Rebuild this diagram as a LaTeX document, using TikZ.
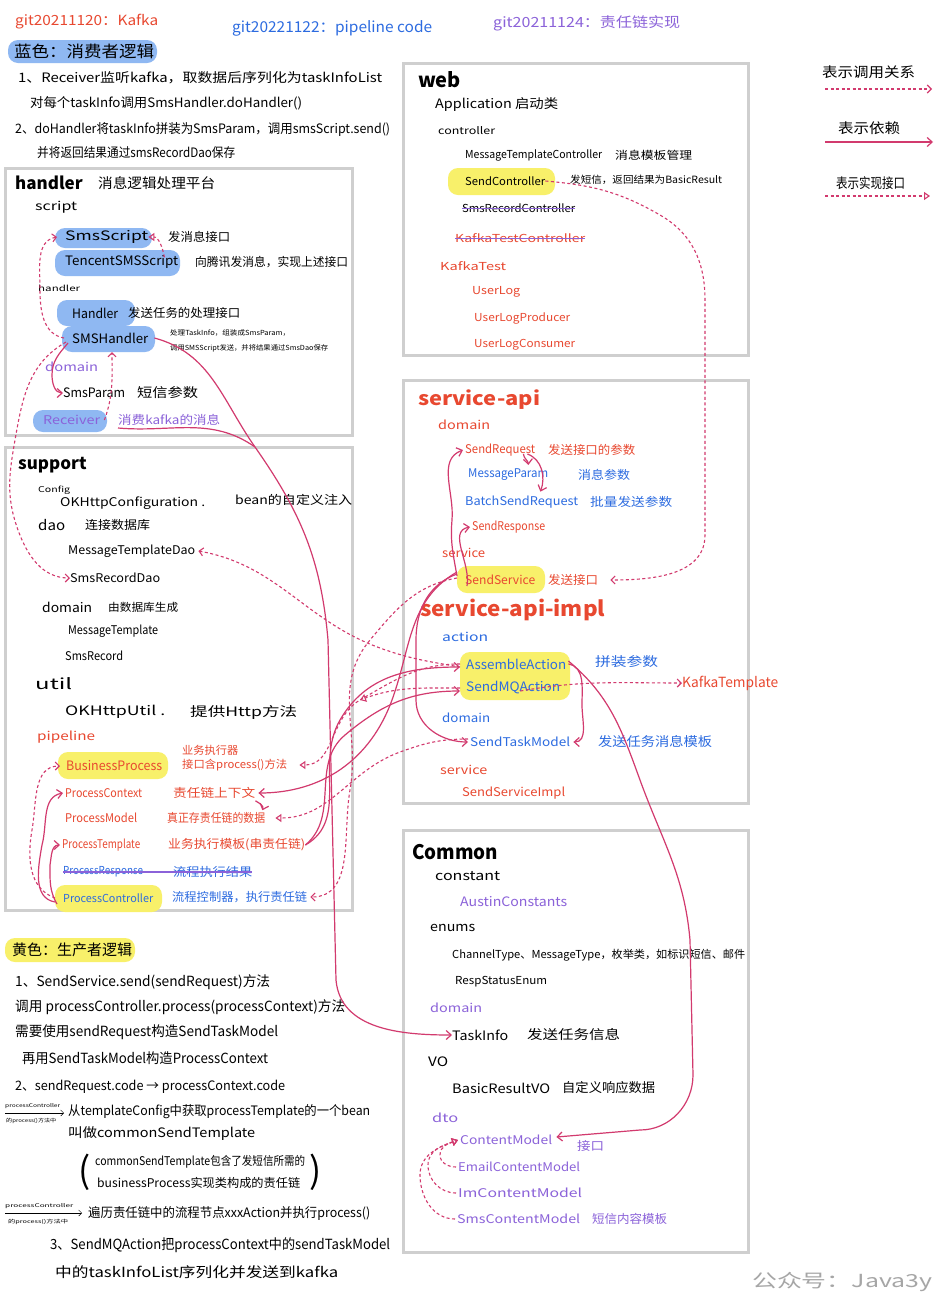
\documentclass[tikz,border=0pt]{standalone}
\usepackage{fontspec}
\setmainfont{Noto Sans CJK SC}
\usepackage{graphicx}
\usetikzlibrary{arrows.meta, positioning}
\definecolor{inkred}{HTML}{E84830}
\definecolor{inkblue}{HTML}{2C6BE0}
\definecolor{inkpurple}{HTML}{8B62D9}
\definecolor{inkarrow}{HTML}{D23A6E}
\definecolor{hlblue}{HTML}{8FB8F2}
\definecolor{hlyellow}{HTML}{F8F06A}
\definecolor{boxgray}{HTML}{CFCFCF}
\newcommand\fs[1]{\fontsize{#1}{#1}\selectfont}
\newcommand\tw[2]{\resizebox{#1pt}{\height}{#2}}
\tikzset{txt/.style={anchor=west,inner sep=0pt,font=\fs{12}},
         head/.style={txt,font=\fs{17}\bfseries},
         small/.style={txt,font=\fs{7}},
         pkgbox/.style={draw=boxgray,line width=3pt},
         pillb/.style={fill=hlblue,rounded corners=10pt},
         pilly/.style={fill=hlyellow,rounded corners=10pt},
         strike/.style={draw=inkpurple,line width=0.8pt},
         callarr/.style={draw=inkarrow,line width=1.1pt,dash pattern=on 3pt off 2.5pt,-{Straight Barb[length=4pt,width=8pt]}},
         dep/.style={draw=inkarrow,line width=1.2pt,-{Straight Barb[length=5pt,width=9pt]}},
         impl/.style={draw=inkarrow,line width=1.1pt,dash pattern=on 3pt off 2.5pt,-{Triangle[open,length=6pt,width=8pt]}},
        }

\begin{document}
\begin{tikzpicture}[x=1pt,y=-1pt]
        \useasboundingbox[fill=white] (0,0) rectangle (937,1302);
        % package boxes
        \draw[pkgbox] (403,63) rectangle (748,355);
        \draw[pkgbox] (5,168) rectangle (352,435);
        \draw[pkgbox] (5,447) rectangle (352,910);
        \draw[pkgbox] (403,380) rectangle (748,803);
        \draw[pkgbox] (403,830) rectangle (748,1252);

        % highlights
        \fill[pillb] (8,40) rectangle (157,63);
        \fill[pilly] (448,168) rectangle (555,195);
        \fill[pillb] (55,228) rectangle (152,248);
        \fill[pillb] (55,250) rectangle (180,276);
        \fill[pillb] (57,300) rectangle (135,326);
        \fill[pillb] (62,326) rectangle (155,352);
        \fill[pillb] (33,410) rectangle (107,432);
        \fill[pilly] (58,752) rectangle (168,779);
        \fill[pilly] (55,885) rectangle (162,912);
        \fill[pilly] (457,566) rectangle (545,593);
        \fill[pilly] (460,652) rectangle (570,700);
        \fill[pilly] (5,938) rectangle (135,962);

        % titles
        \node[txt,inkred,font=\fs{14}] (gk) at (15,22) {\tw{143}{git20211120：Kafka}};
        \node[txt,font=\fs{16}] (lblue) at (14,51) {\tw{140}{蓝色：消费者逻辑}};
        \node[txt,inkblue,font=\fs{15}] (gpipe) at (232,28) {\tw{200}{git20221122：pipeline code}};
        \node[txt,inkpurple,font=\fs{14}] (gchain) at (493,23) {\tw{187}{git20211124：责任链实现}};

        \node[txt,font=\fs{13}] (l1) at (18,78) {\tw{364}{1、Receiver监听kafka，取数据后序列化为taskInfoList}};
        \node[txt,font=\fs{13}] (l2) at (30,103) {\tw{272}{对每个taskInfo调用SmsHandler.doHandler()}};
        \node[txt,font=\fs{13}] (l3) at (15,130) {\tw{375}{2、doHandler将taskInfo拼装为SmsParam，调用smsScript.send()}};
        \node[txt,font=\fs{13}] (l4) at (37,153) {\tw{198}{并将返回结果通过smsRecordDao保存}};

        % legend
        \node[txt,font=\fs{14}] (leg1) at (822,72) {\tw{93}{表示调用关系}};
        \node[txt,font=\fs{14}] (leg2) at (838,128) {\tw{62}{表示依赖}};
        \node[txt,font=\fs{14}] (leg3) at (836,183) {\tw{69}{表示实现接口}};
        \coordinate (leg1a) at (825,89);
        \coordinate (leg1b) at (932,89);
        \coordinate (leg2a) at (825,142);
        \coordinate (leg2b) at (933,142);
        \coordinate (leg3a) at (825,196);
        \coordinate (leg3b) at (930,196);

        % web
        \node[head,font=\fs{20}\bfseries] (hweb) at (418,80) {web};
        \node[txt,font=\fs{13}] (app) at (435,105) {\tw{123}{Application 启动类}};
        \node[txt,font=\fs{10}] (ctl) at (438,131) {\tw{57}{controller}};
        \node[txt,font=\fs{11}] (mtc) at (465,155) {\tw{137}{MessageTemplateController}};
        \node[txt,font=\fs{11}] (mtcn) at (615,155) {\tw{77}{消息模板管理}};
        \node[txt,font=\fs{11}] (sendctl) at (465,181) {\tw{80}{SendController}};
        \node[txt,font=\fs{10}] (sendctln) at (570,180) {\tw{152}{发短信，返回结果为BasicResult}};
        \node[txt,font=\fs{11}] (smsrecctl) at (462,208) {\tw{113}{SmsRecordController}};
        \node[txt,inkred,font=\fs{11}] (kafkactl) at (455,238) {\tw{130}{KafkaTestController}};
        \node[txt,inkred,font=\fs{11}] (kafkatest) at (440,266) {\tw{66}{KafkaTest}};
        \node[txt,inkred,font=\fs{11}] (userlog) at (472,292) {\tw{48}{UserLog}};
        \node[txt,inkred,font=\fs{11}] (ulprod) at (474,318) {\tw{96}{UserLogProducer}};
        \node[txt,inkred,font=\fs{11}] (ulcons) at (474,345) {\tw{101}{UserLogConsumer}};
        \draw[strike] (smsrecctl.west) -- (smsrecctl.east);
        \draw[strike] (kafkactl.west) -- (kafkactl.east);

        % handler
        \node[head] (hhand) at (15,183) {handler};
        \node[txt,font=\fs{14}] (hhandn) at (98,183) {\tw{117}{消息逻辑处理平台}};
        \node[txt] (script) at (35,207) {\tw{42}{script}};
        \node[txt,font=\fs{13}] (smsscript) at (65,237) {\tw{83}{SmsScript}};
        \node[txt] (smsscriptn) at (168,237) {\tw{62}{发消息接口}};
        \node[txt,font=\fs{13}] (tencent) at (65,262) {\tw{113}{TencentSMSScript}};
        \node[txt] (tencentn) at (195,262) {\tw{153}{向腾讯发消息，实现上述接口}};
        \node[txt,font=\fs{8}] (hsub) at (38,288) {\tw{42}{handler}};
        \node[txt,font=\fs{13}] (handler) at (72,313) {\tw{46}{Handler}};
        \node[txt] (handlern) at (128,313) {\tw{112}{发送任务的处理接口}};
        \node[txt,font=\fs{13}] (smshandler) at (72,338) {\tw{76}{SMSHandler}};
        \node[small] (smshn1) at (170,333) {\tw{120}{处理TaskInfo，组装成SmsParam，}};
        \node[small] (smshn2) at (170,348) {\tw{158}{调用SMSScript发送，并将结果通过SmsDao保存}};
        \node[txt,inkpurple] (hdomain) at (45,367) {\tw{53}{domain}};
        \node[txt,font=\fs{13}] (smsparam) at (63,393) {\tw{62}{SmsParam}};
        \node[txt,font=\fs{13}] (smsparamn) at (137,393) {\tw{61}{短信参数}};
        \node[txt,inkpurple] (receiver) at (43,420) {\tw{57}{Receiver}};
        \node[txt,inkpurple] (receivern) at (118,420) {\tw{102}{消费kafka的消息}};

        % support
        \node[head] (hsup) at (18,465) {support};
        \node[txt,font=\fs{8}] (config) at (38,490) {\tw{32}{Config}};
        \node[txt] (okcfg) at (60,503) {\tw{145}{OKHttpConfiguration .}};
        \node[txt] (okcfgn) at (235,500) {\tw{117}{bean的自定义注入}};
        \node[txt,font=\fs{14}] (dao) at (38,525) {\tw{27}{dao}};
        \node[txt] (daon) at (85,525) {\tw{65}{连接数据库}};
        \node[txt] (mtdao) at (68,551) {\tw{127}{MessageTemplateDao}};
        \node[txt] (srdao) at (70,578) {\tw{90}{SmsRecordDao}};
        \node[txt,font=\fs{13}] (sdomain) at (42,607) {\tw{50}{domain}};
        \node[txt,font=\fs{11}] (sdomainn) at (108,607) {\tw{70}{由数据库生成}};
        \node[txt] (mtpl) at (68,631) {\tw{90}{MessageTemplate}};
        \node[txt] (srec) at (65,656) {\tw{58}{SmsRecord}};
        \node[txt,font=\fs{15}] (util) at (35,684) {\tw{37}{util}};
        \node[txt,font=\fs{13}] (okutil) at (65,712) {\tw{100}{OKHttpUtil .}};
        \node[txt,font=\fs{13}] (okutiln) at (190,712) {\tw{107}{提供Http方法}};
        \node[txt,inkred] (pipeline) at (37,737) {\tw{58}{pipeline}};
        \node[txt,inkred,font=\fs{13}] (bproc) at (66,766) {\tw{96}{BusinessProcess}};
        \node[txt,inkred,font=\fs{11}] (bprocn1) at (182,750) {\tw{56}{业务执行器}};
        \node[txt,inkred,font=\fs{11}] (bprocn2) at (182,765) {\tw{105}{接口含process()方法}};
        \node[txt,inkred] (pctx) at (65,793) {\tw{77}{ProcessContext}};
        \node[txt,inkred] (pctxn) at (173,793) {\tw{82}{责任链上下文}};
        \node[txt,inkred] (pmodel) at (65,818) {\tw{72}{ProcessModel}};
        \node[txt,inkred] (pmodeln) at (167,818) {\tw{98}{真正存责任链的数据}};
        \node[txt,inkred] (ptpl) at (62,845) {\tw{78}{ProcessTemplate}};
        \node[txt,inkred] (ptpln) at (168,845) {\tw{137}{业务执行模板(串责任链)}};
        \node[txt,inkblue,font=\fs{11}] (presp) at (63,872) {\tw{80}{ProcessResponse}};
        \node[txt,inkblue] (prespn) at (173,872) {\tw{79}{流程执行结果}};
        \draw[strike,line width=1.2pt] (presp.west) -- (prespn.east);
        \node[txt,inkblue,font=\fs{11}] (pctl) at (63,898) {\tw{90}{ProcessController}};
        \node[txt,inkblue] (pctln) at (172,897) {\tw{135}{流程控制器，执行责任链}};

        % service-api
        \node[head,inkred,font=\fs{19}\bfseries] (hapi) at (418,400) {\tw{122}{service-api}};
        \node[txt,inkred] (adomain) at (438,425) {\tw{52}{domain}};
        \node[txt,inkred] (sreq) at (465,450) {\tw{70}{SendRequest}};
        \node[txt,inkred] (sreqn) at (548,450) {\tw{87}{发送接口的参数}};
        \node[txt,inkblue] (mparam) at (468,475) {\tw{80}{MessageParam}};
        \node[txt,inkblue] (mparamn) at (578,475) {\tw{52}{消息参数}};
        \node[txt,inkblue] (bsreq) at (465,502) {\tw{113}{BatchSendRequest}};
        \node[txt,inkblue] (bsreqn) at (590,502) {\tw{82}{批量发送参数}};
        \node[txt,inkred] (sresp) at (472,527) {\tw{73}{SendResponse}};
        \node[txt,inkred] (asvc) at (442,553) {\tw{43}{service}};
        \node[txt,inkred] (ssvc) at (465,580) {\tw{70}{SendService}};
        \node[txt,inkred] (ssvcn) at (548,580) {\tw{50}{发送接口}};

        % service-api-impl
        \node[head,inkred,font=\fs{21}\bfseries] (himpl) at (420,610) {\tw{185}{service-api-impl}};
        \node[txt,inkblue] (action) at (442,637) {\tw{46}{action}};
        \node[txt,inkblue,font=\fs{13}] (assemble) at (466,664) {\tw{100}{AssembleAction}};
        \node[txt,inkblue,font=\fs{13}] (assemblen) at (595,662) {\tw{63}{拼装参数}};
        \node[txt,inkblue,font=\fs{13}] (sendmq) at (466,688) {\tw{94}{SendMQAction}};
        \node[txt,inkred,font=\fs{14}] (kafkatpl) at (682,683) {\tw{96}{KafkaTemplate}};
        \node[txt,inkblue] (idomain) at (442,718) {\tw{48}{domain}};
        \node[txt,inkblue] (stm) at (470,742) {\tw{100}{SendTaskModel}};
        \node[txt,inkblue,font=\fs{13}] (stmn) at (598,742) {\tw{114}{发送任务消息模板}};
        \node[txt,inkred] (isvc) at (440,770) {\tw{47}{service}};
        \node[txt,inkred] (ssimpl) at (462,793) {\tw{103}{SendServiceImpl}};

        % common
        \node[head,font=\fs{20}\bfseries] (hcom) at (412,852) {\tw{86}{Common}};
        \node[txt,font=\fs{13}] (const) at (435,876) {\tw{65}{constant}};
        \node[txt,inkpurple,font=\fs{13}] (austin) at (460,902) {\tw{107}{AustinConstants}};
        \node[txt,font=\fs{13}] (enums) at (430,928) {\tw{45}{enums}};
        \node[txt,font=\fs{11}] (enumsl) at (452,955) {\tw{293}{ChannelType、MessageType，枚举类，如标识短信、邮件}};
        \node[txt,font=\fs{11}] (respst) at (455,982) {\tw{92}{RespStatusEnum}};
        \node[txt,inkpurple] (cdomain) at (430,1008) {\tw{52}{domain}};
        \node[txt,font=\fs{13}] (taskinfo) at (452,1035) {\tw{56}{TaskInfo}};
        \node[txt,font=\fs{13}] (taskinfon) at (527,1035) {\tw{93}{发送任务信息}};
        \node[txt,font=\fs{13}] (vo) at (428,1062) {\tw{20}{VO}};
        \node[txt,font=\fs{13}] (brvo) at (452,1088) {\tw{98}{BasicResultVO}};
        \node[txt,font=\fs{13}] (brvon) at (562,1088) {\tw{93}{自定义响应数据}};
        \node[txt,inkpurple] (dto) at (432,1118) {\tw{26}{dto}};
        \node[txt,inkpurple] (cmodel) at (460,1140) {\tw{92}{ContentModel}};
        \node[txt,inkpurple] (cmodeln) at (577,1146) {\tw{27}{接口}};
        \node[txt,inkpurple] (email) at (458,1167) {\tw{122}{EmailContentModel}};
        \node[txt,inkpurple] (immodel) at (458,1193) {\tw{124}{ImContentModel}};
        \node[txt,inkpurple] (smsmodel) at (457,1219) {\tw{123}{SmsContentModel}};
        \node[txt,inkpurple] (smsmodeln) at (592,1219) {\tw{75}{短信内容模板}};

        % producer notes
        \node[txt,font=\fs{15}] (lyellow) at (12,950) {\tw{120}{黄色：生产者逻辑}};
        \node[txt,font=\fs{14}] (b1) at (15,982) {\tw{255}{1、SendService.send(sendRequest)方法}};
        \node[txt,font=\fs{14}] (b2) at (15,1007) {\tw{330}{调用 processController.process(processContext)方法}};
        \node[txt,font=\fs{14}] (b3) at (15,1032) {\tw{263}{需要使用sendRequest构造SendTaskModel}};
        \node[txt,font=\fs{14}] (b4) at (22,1058) {\tw{246}{再用SendTaskModel构造ProcessContext}};
        \node[txt,font=\fs{13}] (b5) at (15,1087) {\tw{270}{2、sendRequest.code → processContext.code}};
        \node[txt,font=\fs{5}] (s1a) at (5,1106) {\tw{55}{processController}};
        \node[txt,font=\fs{5}] (s1b) at (6,1121) {\tw{50}{的process()方法中}};
        \node[txt,font=\fs{13}] (b6) at (68,1112) {\tw{302}{从templateConfig中获取processTemplate的一个bean}};
        \node[txt,font=\fs{13}] (b7) at (68,1134) {\tw{187}{叫做commonSendTemplate}};
        \node[txt,font=\fs{12}] (b8) at (95,1162) {\tw{210}{commonSendTemplate包含了发短信所需的}};
        \node[txt,font=\fs{12}] (b9) at (97,1183) {\tw{203}{businessProcess实现类构成的责任链}};
        \node[txt,font=\fs{36}] (lpar) at (78,1172) {(};
        \node[txt,font=\fs{36}] (rpar) at (309,1172) {)};
        \node[txt,font=\fs{5}] (s2a) at (5,1206) {\tw{68}{processController}};
        \node[txt,font=\fs{5}] (s2b) at (8,1222) {\tw{60}{的process()方法中}};
        \node[txt,font=\fs{13}] (b10) at (88,1213) {\tw{282}{遍历责任链中的流程节点xxxAction并执行process()}};
        \node[txt,font=\fs{14}] (b11) at (50,1245) {\tw{340}{3、SendMQAction把processContext中的sendTaskModel}};
        \node[txt,font=\fs{14}] (b12) at (55,1272) {\tw{283}{中的taskInfoList序列化并发送到kafka}};
        \coordinate (s1l) at (5,1113);
        \coordinate (s1r) at (64,1113);
        \coordinate (s2l) at (5,1213);
        \coordinate (s2r) at (82,1213);
        \node[txt,gray!70,font=\fs{18}] (wm) at (752,1282) {\tw{180}{公众号：Java3y}};

        % legend arrows
        \draw[callarr] (leg1a) -- (leg1b);
        \draw[dep] (leg2a) -- (leg2b);
        \draw[impl] (leg3a) -- (leg3b);
        \draw[-{Straight Barb[length=3pt]},line width=0.5pt] (s1l) -- (s1r);
        \draw[-{Straight Barb[length=3pt]},line width=0.5pt] (s2l) -- (s2r);

        % handler links
        \draw[impl] ([xshift=-14pt,yshift=-2pt]tencent.north east) to[out=100,in=0] (smsscript.east);
        \draw[callarr] ([xshift=-8pt]smshandler.west) to[out=170,in=-90] (40,290) to[out=90,in=190] ([xshift=-8pt]smsscript.west);
        \draw[dep] ([xshift=-4pt,yshift=-5pt]smshandler.west) to[out=-130,in=90] (52,375) to[out=-90,in=180] (smsparam.west);
        \draw[callarr] ([xshift=4pt]receiver.east) to[out=70,in=-90] (112,352);
        \draw[callarr] ([xshift=-6pt,yshift=-4pt]smshandler.west) to[out=-150,in=80] (15,440) to[out=-100,in=110] (18,530) to[out=-70,in=180] (srdao.west);
        \draw[dep] ([xshift=6pt]smshandler.east) to[out=-15,in=125] (255,447) to[out=-55,in=95] (328,640) -- (336,980) to[out=-85,in=180] (taskinfo.west);
        \draw[inkarrow,line width=1.2pt] ([yshift=-8pt]receivern.west) to[out=-5,in=145] (255,447);

        % web to service
        \draw[callarr] (sendctl.east) to[out=-5,in=150] (660,215) to[out=-30,in=90] (705,300) -- (705,535) to[out=-90,in=0] ([xshift=12pt]ssvcn.east);

        % service-api links
        \draw[dep] ([xshift=-8pt,yshift=4pt]ssvc.west) to[out=100,in=-95] (452,520) to[out=85,in=200] ([xshift=-2pt]sreq.west);
        \draw[dep] ([xshift=2pt,yshift=-6pt]ssvc.west) to[out=80,in=190] ([xshift=-2pt]sresp.west);
        \draw[dep] ([xshift=-12pt,yshift=-4pt]sreq.east) to[out=-85,in=95] ([xshift=-20pt,yshift=4pt]mparam.north east);
        \draw[dep] ([xshift=-8pt,yshift=-4pt]sreq.east) to[out=-20,in=70] ([xshift=-38pt,yshift=4pt]bsreq.north east);

        % producer links
        \draw[dep] ([xshift=-8pt,yshift=6pt]ssvc.west) to[out=200,in=90] (416,640) -- (416,700) to[out=-90,in=180] ([xshift=-2pt]stm.west);
        \draw[callarr] ([xshift=-8pt,yshift=2pt]ssvc.west) to[out=190,in=50] (370,640) to[out=-130,in=80] (350,790) to[out=-100,in=0] ([xshift=3pt]pctln.east);
        \draw[dep] ([xshift=-8pt,yshift=8pt]ssvc.west) to[out=210,in=70] (392,700) to[out=-110,in=0] ([xshift=3pt]pctxn.east);
        \draw[impl] ([xshift=-6pt]assemble.west) to[out=180,in=30] (360,700) to[out=-150,in=0] ([xshift=12pt]bprocn2.east);
        \draw[impl] ([xshift=-6pt]sendmq.west) to[out=180,in=20] (360,700);
        \draw[callarr] ([xshift=-6pt,yshift=-3pt]assemble.west) to[out=170,in=-20] (380,648) to[out=160,in=-10] ([xshift=3pt]mtdao.east);
        \draw[impl] ([xshift=-2pt,yshift=3pt]stm.west) to[out=180,in=20] (400,752) to[out=-160,in=0] ([xshift=10pt]pmodeln.east);
        \draw[dep] (ptpln.east) to[out=30,in=-120] (340,720) to[out=60,in=180] ([xshift=-6pt,yshift=-3pt]assemble.west);
        \draw[dep] (ptpln.east) to[out=40,in=-140] (345,735) to[out=40,in=180] ([xshift=-6pt,yshift=-3pt]sendmq.west);

        % pipeline links
        \draw[callarr] ([xshift=-8pt]pctl.west) to[out=160,in=-100] (32,830) to[out=80,in=180] ([xshift=-6pt]bproc.west);
        \draw[dep] ([xshift=-8pt,yshift=-4pt]pctl.west) to[out=170,in=-100] (42,845) to[out=75,in=190] ([xshift=-2pt]pctx.west);
        \draw[dep] ([xshift=-6pt,yshift=-6pt]pctl.west) to[out=120,in=-90] (50,865) to[out=80,in=180] ([xshift=-2pt]ptpl.west);
        \draw[dep] ([yshift=-2pt]pctxn.south east) to[out=-30,in=70] ([xshift=-3pt,yshift=2pt]pmodeln.north east);

        % impl links
        \draw[dep] ([xshift=2pt]assemble.east) to[out=-10,in=90] (582,705) to[out=-90,in=0] ([xshift=3pt]stm.east);
        \draw[dep] ([xshift=2pt,yshift=3pt]assemble.east) to[out=-40,in=110] (640,780) to[out=-70,in=95] (690,940) -- (693,1075) to[out=-90,in=0] (640,1130) -- ([xshift=4pt,yshift=3pt]cmodel.east);
        \draw[callarr] ([xshift=-40pt,yshift=-3pt]sendmq.east) to[out=10,in=180] (kafkatpl.west);

        % content models
        \draw[impl] ([xshift=-2pt]email.west) to[out=180,in=-90] (440,1155) to[out=90,in=200] ([xshift=-2pt]cmodel.west);
        \draw[impl] ([xshift=-2pt]immodel.west) to[out=180,in=-90] (428,1165) to[out=90,in=200] ([xshift=-2pt]cmodel.west);
        \draw[impl] ([xshift=-2pt]smsmodel.west) to[out=180,in=-90] (420,1175) to[out=90,in=200] ([xshift=-2pt]cmodel.west);
\end{tikzpicture}
\end{document}
